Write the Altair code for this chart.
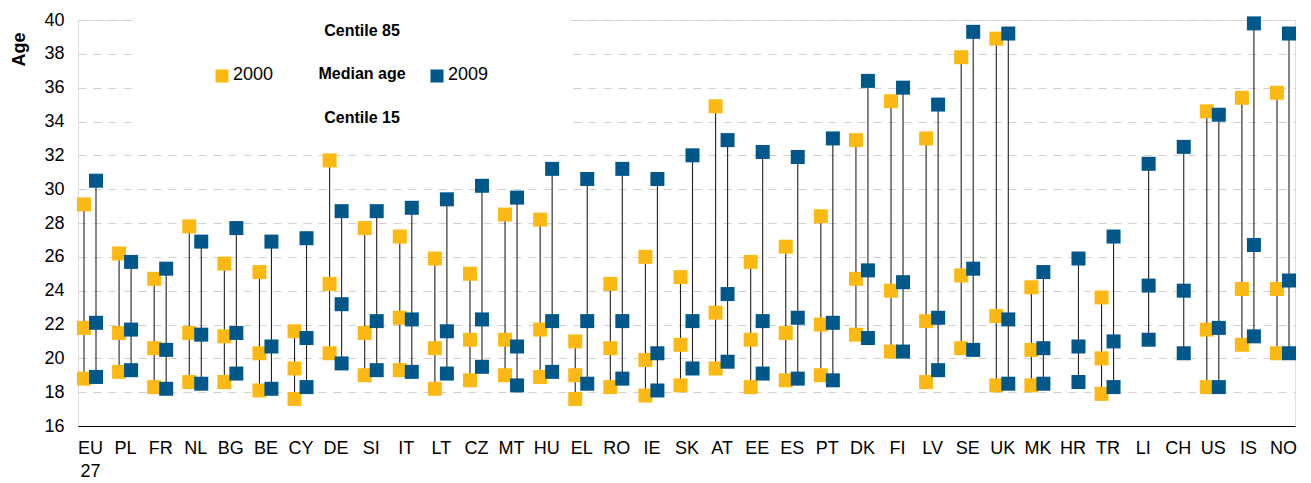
import altair as alt
import pandas as pd

countries = ["EU27", "PL", "FR", "NL", "BG", "BE", "CY", "DE", "SI", "IT", "LT", "CZ",
             "MT", "HU", "EL", "RO", "IE", "SK", "AT", "EE", "ES", "PT", "DK", "FI",
             "LV", "SE", "UK", "MK", "HR", "TR", "LI", "CH", "US", "IS", "NO"]

# 2000
c85_2000 = [29.1, 26.2, 24.7, 27.8, 25.6, 25.1, 21.6, 31.7, 27.7, 27.2, 25.9, 25.0,
            28.5, 28.2, 21.0, 24.4, 26.0, 24.8, 34.9, 25.7, 26.6, 28.4, 32.9, 35.2,
            33.0, 37.8, 38.9, 24.2, None, 23.6, None, None, 34.6, 35.4, 35.7]
med_2000 = [21.8, 21.5, 20.6, 21.5, 21.3, 20.3, 19.4, 24.4, 21.5, 22.4, 20.6, 21.1,
            21.1, 21.7, 19.0, 20.6, 19.9, 20.8, 22.7, 21.1, 21.5, 22.0, 24.7, 24.0,
            22.2, 24.9, 22.5, 20.5, None, 20.0, None, None, 21.7, 24.1, 24.1]
c15_2000 = [18.8, 19.2, 18.3, 18.6, 18.6, 18.1, 17.6, 20.3, 19.0, 19.3, 18.2, 18.7,
            19.0, 18.9, 17.6, 18.3, 17.8, 18.4, 19.4, 18.3, 18.7, 19.0, 21.4, 20.4,
            18.6, 20.6, 18.4, 18.4, None, 17.9, None, None, 18.3, 20.8, 20.3]
# 2009
c85_2009 = [30.5, 25.7, 25.3, 26.9, 27.7, 26.9, 27.1, 28.7, 28.7, 28.9, 29.4, 30.2,
            29.5, 31.2, 30.6, 31.2, 30.6, 32.0, 32.9, 32.2, 31.9, 33.0, 36.4, 36.0,
            35.0, 39.3, 39.2, 25.1, 25.9, 27.2, 31.5, 32.5, 34.4, 39.8, 39.2]
med_2009 = [22.1, 21.7, 20.5, 21.4, 21.5, 20.7, 21.2, 23.2, 22.2, 22.3, 21.6, 22.3,
            20.7, 22.2, 22.2, 22.2, 20.3, 22.2, 23.8, 22.2, 22.4, 22.1, 25.2, 24.5,
            22.4, 25.3, 22.3, 20.6, 20.7, 21.0, 24.3, 24.0, 21.8, 26.7, 24.6]
c15_2009 = [18.9, 19.3, 18.2, 18.5, 19.1, 18.2, 18.3, 19.7, 19.3, 19.2, 19.1, 19.5,
            18.4, 19.2, 18.5, 18.8, 18.1, 19.4, 19.8, 19.1, 18.8, 18.7, 21.2, 20.4,
            19.3, 20.5, 18.5, 18.5, 18.6, 18.3, 21.1, 20.3, 18.3, 21.3, 20.3]

YELLOW = "#FDB913"
BLUE = "#00578A"
FONT = "Liberation Sans"

def frame(c15, med, c85):
    return pd.DataFrame({"country": countries, "c15": c15, "med": med, "c85": c85})

df2000 = frame(c15_2000, med_2000, c85_2000).dropna()
df2009 = frame(c15_2009, med_2009, c85_2009).dropna()

x_enc = alt.X("country:N", sort=countries,
              scale=alt.Scale(type="point", padding=0.342),
              axis=alt.Axis(title=None, labelAngle=0, ticks=False, grid=False,
                            domainColor="#000000", domainWidth=1,
                            labelFont=FONT, labelFontSize=18, labelColor="#000000",
                            labelPadding=13, labelLineHeight=23,
                            labelExpr="datum.value == 'EU27' ? ['EU', '27'] : datum.value"))
y_scale = alt.Scale(domain=[16, 40], nice=False, zero=False)
y_axis = alt.Axis(title="Age", values=list(range(16, 41, 2)), ticks=False, domain=False,
                  grid=True, gridDash=[8, 7], gridColor="#d0d0d0", gridWidth=1,
                  labelFont=FONT, labelFontSize=18, labelColor="#000000", labelPadding=14,
                  titleFont=FONT, titleFontSize=18, titleFontWeight="bold", titleColor="#000000",
                  titleAngle=-90, titleX=-59, titleY=29, titleAlign="center", titleBaseline="middle")

def rules(df, off):
    return alt.Chart(df).mark_rule(color="#222222", strokeWidth=1.1, xOffset=off).encode(
        x=x_enc,
        y=alt.Y("c15:Q", scale=y_scale, axis=y_axis),
        y2="c85:Q")

def squares(df, off, color):
    return alt.Chart(df).transform_fold(["c15", "med", "c85"], as_=["stat", "value"]).mark_square(
        color=color, opacity=1, size=196, xOffset=off).encode(
        x=x_enc,
        y=alt.Y("value:Q", scale=y_scale, axis=y_axis))

anchor = pd.DataFrame({"k": [0]})
box = alt.Chart(anchor).mark_rect(color="white").encode(
    x=alt.value(55), x2=alt.value(492), y=alt.value(-6), y2=alt.value(108))

def label(txt, x, y, bold=True, size=16, align="center"):
    return alt.Chart(anchor).mark_text(text=txt, font=FONT, fontSize=size,
                                       fontWeight="bold" if bold else "normal",
                                       align=align, baseline="middle", color="#000000").encode(
        x=alt.value(x), y=alt.value(y))

def key(x, y, color):
    return alt.Chart(anchor).mark_square(color=color, opacity=1, size=170).encode(
        x=alt.value(x), y=alt.value(y))

chart = alt.layer(
    rules(df2000, -6), rules(df2009, 6),
    squares(df2000, -6, YELLOW), squares(df2009, 6, BLUE),
    box,
    label("Centile 85", 284, 11),
    label("Median age", 284, 54),
    label("Centile 15", 284, 98),
    key(144, 56, YELLOW), label("2000", 155, 55, bold=False, size=18, align="left"),
    key(359, 56, BLUE), label("2009", 370, 55, bold=False, size=18, align="left"),
).properties(
    width=1217, height=406,
    autosize=alt.AutoSizeParams(type="none"),
    padding={"left": 70, "top": 12, "right": 8, "bottom": 58},
).configure_view(stroke=None).configure(background="white")

chart.save("out.html", embed_options={"renderer": "svg", "actions": False})
